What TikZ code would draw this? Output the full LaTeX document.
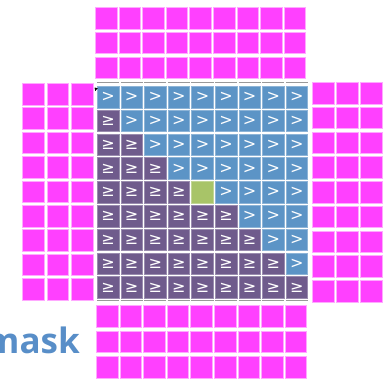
\documentclass[tikz,border=0pt]{standalone}
\usepackage{fontspec}
\setmainfont{Open Sans}
\newfontfamily\symfont{DejaVu Sans}
\usepackage{tikz}
\usetikzlibrary{positioning}
\definecolor{maskpink}{RGB}{255,64,255}
\definecolor{maskblue}{RGB}{92,148,198}
\definecolor{maskpurple}{RGB}{111,91,140}
\definecolor{maskgreen}{RGB}{168,196,104}
\definecolor{masktext}{RGB}{88,142,200}

\begin{document}
\begin{tikzpicture}[
    x=1pt, y=-1pt,
    pad/.style={fill=maskpink, draw=maskpink!45, line width=0.6pt, minimum size=21.5pt, inner sep=0pt, anchor=north west},
    cell/.style={fill=#1, draw=#1!70!white, line width=0.6pt, minimum size=21.5pt, inner sep=0pt, anchor=north west, text=white, font=\symfont\fontsize{16}{16}\selectfont},
    rim/.style={draw=black!40, line width=0.8pt},
    masklabel/.style={text=masktext, font=\bfseries\fontsize{35}{35}\selectfont, inner sep=0pt}
]
\useasboundingbox (0,0) rectangle (387,380);
\clip (0,0) rectangle (387,380);

% padding above and below
\foreach \r in {0,1,2}
  \foreach \c in {0,...,8} {
    \node[pad] (top-\r-\c) at ({95+23.6*\c},{7+24.8*\r}) {};
    \node[pad] (bot-\r-\c) at ({96+23.6*\c},{305+25.7*\r}) {};
  }

% padding left and right
\foreach \r in {0,...,8}
  \foreach \c in {0,1,2} {
    \node[pad] (left-\r-\c) at ({22+24.5*\c},{83+24.4*\r}) {};
    \node[pad] (right-\r-\c) at ({312+24.2*\c},{82+24.75*\r}) {};
  }

% the mask itself
\foreach \r in {0,...,8}
  \foreach \c in {0,...,8} {
    \pgfmathtruncatemacro\kind{(\r==4 && \c==4) ? 0 : ((\c<\r || (\c==\r && \r>4)) ? 1 : 2)}
    \ifcase\kind
      \node[cell=maskgreen] (c-\r-\c) at ({97+23.6*\c},{86+23.8*\r}) {};
    \or
      \node[cell=maskpurple] (c-\r-\c) at ({97+23.6*\c},{86+23.8*\r}) {≥};
    \or
      \node[cell=maskblue] (c-\r-\c) at ({97+23.6*\c},{86+23.8*\r}) {>};
    \fi
  }

% grey rims above and below the mask
\foreach \c in {0,...,8} {
  \draw[rim] ([yshift=4pt]c-0-\c.north west) -- ([yshift=4pt]c-0-\c.north east);
  \draw[rim] ([yshift=-2pt]c-8-\c.south west) -- ([yshift=-2pt]c-8-\c.south east);
}

% pointer
\fill[black] (94.5,87.5) -- (97.8,88.3) -- (95.3,91) -- cycle;

\node[masklabel, anchor=base east] (label) at (80,353) {mask};

\end{tikzpicture}
\end{document}
